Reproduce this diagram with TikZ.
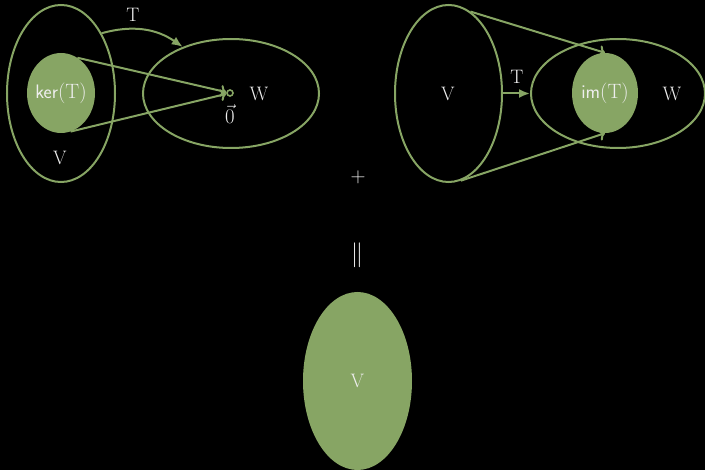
\documentclass[tikz,border=0pt]{standalone}
\usetikzlibrary{shapes.geometric,arrows.meta}
\definecolor{grn}{HTML}{87A564}
\definecolor{txt}{HTML}{EEEEEE}
\begin{document}
\begin{tikzpicture}[x=1pt,y=-1pt,
  every node/.style={text=txt,font=\fontsize{19.5}{23}\selectfont},
  setring/.style={ellipse,draw=grn,line width=2pt,inner sep=0pt},
  setfill/.style={ellipse,fill=grn,inner sep=0pt},
  lbl/.style={inner sep=0pt},
  conn/.style={draw=grn,line width=2pt},
  mapto/.style={conn,-{To[length=6pt,width=12pt]}},
  bigT/.style={conn,-{Latex[length=11pt,width=9pt]}}]
\fill[black] (0,0) rectangle (705,470);
\useasboundingbox (0,0) rectangle (705,470);
% left diagram
\node[setring,minimum width=108pt,minimum height=177pt] (V1) at (61,93.5) {};
\node[setfill,minimum width=68pt,minimum height=80pt] (K) at (61,93) {};
\node[lbl] at (K) {\textsf{ker}$(\mathrm{T})$};
\node[lbl] (V1l) at (60,158) {V};
\node[setring,minimum width=176pt,minimum height=109pt] (W1) at (231,93.5) {};
\node[circle,draw=grn,line width=1.6pt,minimum size=6pt,inner sep=0pt] (Z) at (230,93) {};
\node[lbl] (Zl) at (230,114) {$\vec{0}$};
\node[lbl] (W1l) at (259,94) {W};
\draw[mapto] (K.65) -- (Z);
\draw[mapto] (K.-76) -- (Z);
\draw[bigT] (V1.56) to[bend left=25] (W1.136);
\node[lbl] (T1) at (133,15) {T};
% right diagram
\node[setring,minimum width=107pt,minimum height=177pt] (V2) at (448.5,93.5) {};
\node[setring,minimum width=174pt,minimum height=109pt] (W2) at (618,93.5) {};
\node[setfill,minimum width=66pt,minimum height=80pt] (I) at (605,93) {};
\node[lbl] at (I) {\textsf{im}$(\mathrm{T})$};
\node[lbl] (V2l) at (448,94) {V};
\node[lbl] (W2l) at (672,94) {W};
\draw[mapto] (V2.75) -- (I.north);
\draw[mapto] (V2.-82) -- (I.south);
\draw[bigT] (V2.east) -- (W2.west);
\node[lbl] (T2) at (517,77) {T};
% sum
\node[lbl] (plus) at (358,177) {$+$};
\node[lbl,font=\fontsize{24}{27}\selectfont] (eq) at (357,255) {$\parallel$};
\node[setfill,minimum width=109pt,minimum height=178pt] (V3) at (357.5,381) {};
\node[lbl] (V3l) at (V3) {V};
\end{tikzpicture}
\end{document}
